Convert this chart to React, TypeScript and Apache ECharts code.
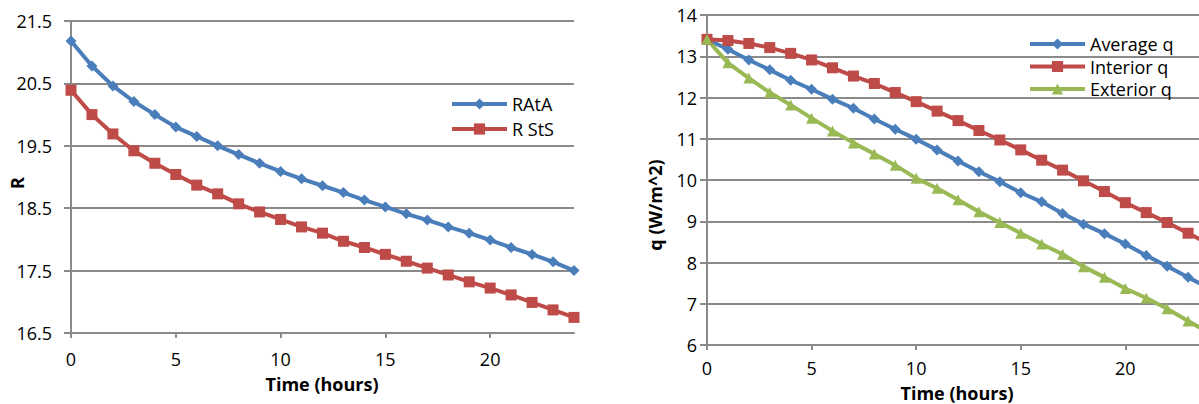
import { useEffect, useRef } from "react";
import * as echarts from "echarts";

const hours = [0, 1, 2, 3, 4, 5, 6, 7, 8, 9, 10, 11, 12, 13, 14, 15, 16, 17, 18, 19, 20, 21, 22, 23, 24];

const rAtA = [21.18, 20.78, 20.46, 20.21, 20.0, 19.8, 19.65, 19.5, 19.36, 19.22, 19.09, 18.97, 18.86, 18.75, 18.63, 18.52, 18.41, 18.31, 18.2, 18.1, 17.99, 17.87, 17.76, 17.64, 17.5];
const rStS = [20.39, 20.0, 19.69, 19.42, 19.22, 19.04, 18.87, 18.73, 18.57, 18.44, 18.32, 18.2, 18.1, 17.97, 17.87, 17.76, 17.65, 17.54, 17.43, 17.32, 17.22, 17.11, 16.99, 16.87, 16.75];

const averageQ = [13.41, 13.17, 12.91, 12.67, 12.42, 12.2, 11.96, 11.74, 11.48, 11.23, 10.99, 10.73, 10.46, 10.2, 9.96, 9.69, 9.47, 9.19, 8.93, 8.7, 8.45, 8.17, 7.91, 7.64, 7.38];
const interiorQ = [13.41, 13.38, 13.31, 13.21, 13.07, 12.91, 12.72, 12.52, 12.34, 12.12, 11.9, 11.67, 11.44, 11.2, 10.97, 10.73, 10.48, 10.24, 9.98, 9.72, 9.45, 9.21, 8.97, 8.71, 8.45];
const exteriorQ = [13.41, 12.84, 12.47, 12.12, 11.82, 11.5, 11.19, 10.9, 10.63, 10.36, 10.04, 9.8, 9.52, 9.23, 8.97, 8.71, 8.45, 8.2, 7.9, 7.64, 7.37, 7.14, 6.88, 6.58, 6.3];

const xTicks = [0, 5, 10, 15, 20];
const leftYTicks = [16.5, 17.5, 18.5, 19.5, 20.5, 21.5];
const rightYTicks = [6, 7, 8, 9, 10, 11, 12, 13, 14];

const leftNames = ["RAtA", "R StS"];
const rightNames = ["Average q", "Interior q", "Exterior q"];

const BLUE = "#4a7ebb";
const RED = "#be4b48";
const GREEN = "#98b954";
const GRID_GREY = "#8a8a8a";
const FONT = "Open Sans";

const pairs = (vals: number[]) => hours.map((h, i) => [h, vals[i]]);

export default function App() {
  const ref = useRef<HTMLDivElement>(null);
  useEffect(() => {
    document.body.style.margin = "0";
    const chart = echarts.init(ref.current!, null, { renderer: "svg" });

    const xAxisBase = (gridIndex: number, margin: number) => ({
      type: "value",
      gridIndex,
      min: 0,
      max: 24,
      axisLine: { show: true, onZero: false, lineStyle: { color: GRID_GREY, width: 2 } },
      axisTick: { show: true, customValues: xTicks, length: 5, lineStyle: { color: GRID_GREY, width: 2 } },
      axisLabel: { customValues: xTicks, margin, color: "#000", fontSize: 18, fontFamily: FONT },
      splitLine: { show: false },
    });

    const yAxisBase = (gridIndex: number, min: number, max: number, ticks: number[], margin: number, fmt: (v: number) => string) => ({
      type: "value",
      gridIndex,
      min,
      max,
      axisLine: { show: true, lineStyle: { color: GRID_GREY, width: 2 } },
      axisTick: { show: true, customValues: ticks, length: 7, lineStyle: { color: GRID_GREY, width: 2 } },
      axisLabel: { customValues: ticks, margin, color: "#000", fontSize: 18, fontFamily: FONT, formatter: fmt },
      splitLine: { show: true, lineStyle: { color: GRID_GREY, width: 2 } },
    });

    const lineSeries = (name: string, vals: number[], color: string, symbol: string, symbolSize: number, idx: number) => ({
      name,
      type: "line",
      xAxisIndex: idx,
      yAxisIndex: idx,
      data: pairs(vals),
      symbol,
      symbolSize,
      color,
      lineStyle: { width: 4, color },
      itemStyle: { color },
    });

    const legendBase = {
      orient: "vertical",
      itemWidth: 55,
      itemHeight: 14,
      lineStyle: { width: 4 },
      textStyle: { fontSize: 18, fontFamily: FONT, color: "#000", lineHeight: 20 },
    };

    chart.setOption({
      animation: false,
      backgroundColor: "#fff",
      grid: [
        { left: 71, top: 21, width: 503, height: 312 },
        { left: 707, top: 15, width: 502, height: 330 },
      ],
      xAxis: [xAxisBase(0, 17), xAxisBase(1, 14)],
      yAxis: [
        yAxisBase(0, 16.5, 21.5, leftYTicks, 19, (v: number) => v.toFixed(1)),
        yAxisBase(1, 6, 14, rightYTicks, 10, (v: number) => String(v)),
      ],
      legend: [
        { ...legendBase, data: leftNames, left: 445, top: 89, itemGap: 5 },
        { ...legendBase, data: rightNames, left: 1023, top: 29, itemGap: 2.5 },
      ],
      series: [
        lineSeries(leftNames[0], rAtA, BLUE, "diamond", 11, 0),
        lineSeries(leftNames[1], rStS, RED, "rect", 11, 0),
        lineSeries(rightNames[0], averageQ, BLUE, "diamond", 11, 1),
        lineSeries(rightNames[1], interiorQ, RED, "rect", 11, 1),
        lineSeries(rightNames[2], exteriorQ, GREEN, "triangle", 11, 1),
      ],
      graphic: [
        {
          type: "text",
          x: 17,
          y: 183,
          rotation: Math.PI / 2,
          style: { text: "R", fontSize: 18, fontWeight: "bold", fontFamily: FONT, fill: "#000", textAlign: "center", textVerticalAlign: "middle" },
        },
        {
          type: "text",
          x: 322,
          y: 384,
          style: { text: "Time (hours)", fontSize: 18, fontWeight: "bold", fontFamily: FONT, fill: "#000", textAlign: "center", textVerticalAlign: "middle" },
        },
        {
          type: "text",
          x: 655,
          y: 205,
          rotation: Math.PI / 2,
          style: { text: "q (W/m^2)", fontSize: 18, fontWeight: "bold", fontFamily: FONT, fill: "#000", textAlign: "center", textVerticalAlign: "middle" },
        },
        {
          type: "text",
          x: 957,
          y: 393,
          style: { text: "Time (hours)", fontSize: 18, fontWeight: "bold", fontFamily: FONT, fill: "#000", textAlign: "center", textVerticalAlign: "middle" },
        },
      ],
    });
    return () => chart.dispose();
  }, []);
  return (
    <div style={{ position: "fixed", left: 0, top: 0, width: 1199, height: 404, overflow: "hidden", background: "#fff" }}>
      <div ref={ref} style={{ width: 1215, height: 404 }} />
    </div>
  );
}
